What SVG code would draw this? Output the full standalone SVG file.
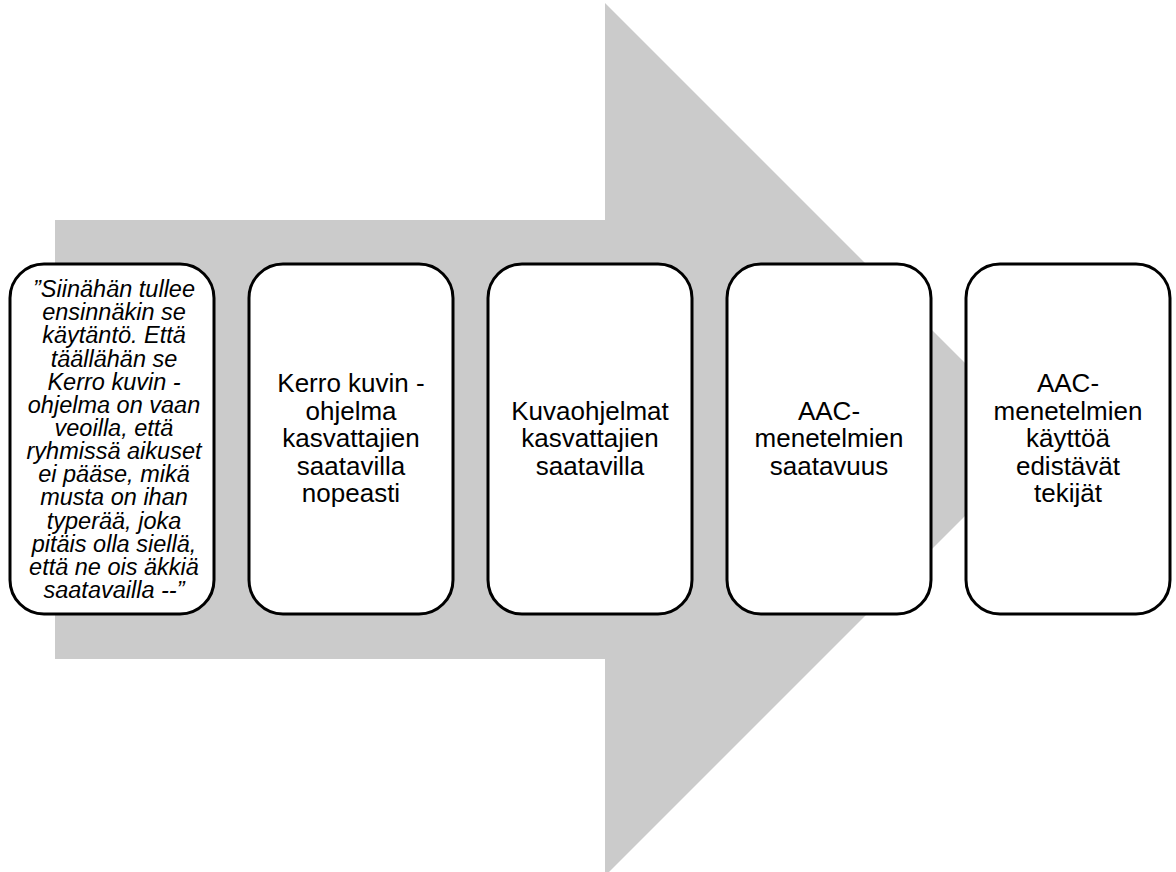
<svg xmlns="http://www.w3.org/2000/svg" width="1176" height="872" viewBox="0 0 1176 872">
<style>
.box{fill:#ffffff;stroke:#000000;stroke-width:3}
.t{font-family:"Liberation Sans",Arial,sans-serif;font-size:26px;fill:#000000;text-anchor:middle}
.q{font-family:"Liberation Sans",Arial,sans-serif;font-size:23.5px;font-style:italic;fill:#000000;text-anchor:middle}
</style>
<rect width="1176" height="872" fill="#ffffff"/>
<g id="arrow">
<polygon points="55,220 605,220 605,3 1041.5,439.5 605,876 605,659 55,659" fill="#cbcbcb"/>
</g>
<g id="connectors"></g>
<g id="node1">
<rect class="box" x="10" y="264" width="204" height="350" rx="34" ry="34"/>
<text class="q" x="114" y="297">”Siinähän tullee</text>
<text class="q" x="114" y="320.2">ensinnäkin se</text>
<text class="q" x="114" y="343.3">käytäntö. Että</text>
<text class="q" x="114" y="366.5">täällähän se</text>
<text class="q" x="114" y="389.6">Kerro kuvin -</text>
<text class="q" x="114" y="412.8">ohjelma on vaan</text>
<text class="q" x="114" y="435.9">veoilla, että</text>
<text class="q" x="114" y="459.1">ryhmissä aikuset</text>
<text class="q" x="114" y="482.2">ei pääse, mikä</text>
<text class="q" x="114" y="505.4">musta on ihan</text>
<text class="q" x="114" y="528.5">typerää, joka</text>
<text class="q" x="114" y="551.7">pitäis olla siellä,</text>
<text class="q" x="114" y="574.8">että  ne ois äkkiä</text>
<text class="q" x="114" y="598">saatavailla --”</text>
</g>
<g id="node2">
<rect class="box" x="249" y="264" width="204" height="350" rx="34" ry="34"/>
<text class="t" x="351" y="392">Kerro kuvin -</text>
<text class="t" x="351" y="419.5">ohjelma</text>
<text class="t" x="351" y="447">kasvattajien</text>
<text class="t" x="351" y="474.5">saatavilla</text>
<text class="t" x="351" y="502">nopeasti</text>
</g>
<g id="node3">
<rect class="box" x="488" y="264" width="204" height="350" rx="34" ry="34"/>
<text class="t" x="590" y="420">Kuvaohjelmat</text>
<text class="t" x="590" y="447">kasvattajien</text>
<text class="t" x="590" y="475">saatavilla</text>
</g>
<g id="node4">
<rect class="box" x="727" y="264" width="204" height="350" rx="34" ry="34"/>
<text class="t" x="829" y="420">AAC-</text>
<text class="t" x="829" y="447">menetelmien</text>
<text class="t" x="829" y="475">saatavuus</text>
</g>
<g id="node5">
<rect class="box" x="966" y="264" width="204" height="350" rx="34" ry="34"/>
<text class="t" x="1068" y="392">AAC-</text>
<text class="t" x="1068" y="419.5">menetelmien</text>
<text class="t" x="1068" y="447">käyttöä</text>
<text class="t" x="1068" y="474.5">edistävät</text>
<text class="t" x="1068" y="502">tekijät</text>
</g>
</svg>
